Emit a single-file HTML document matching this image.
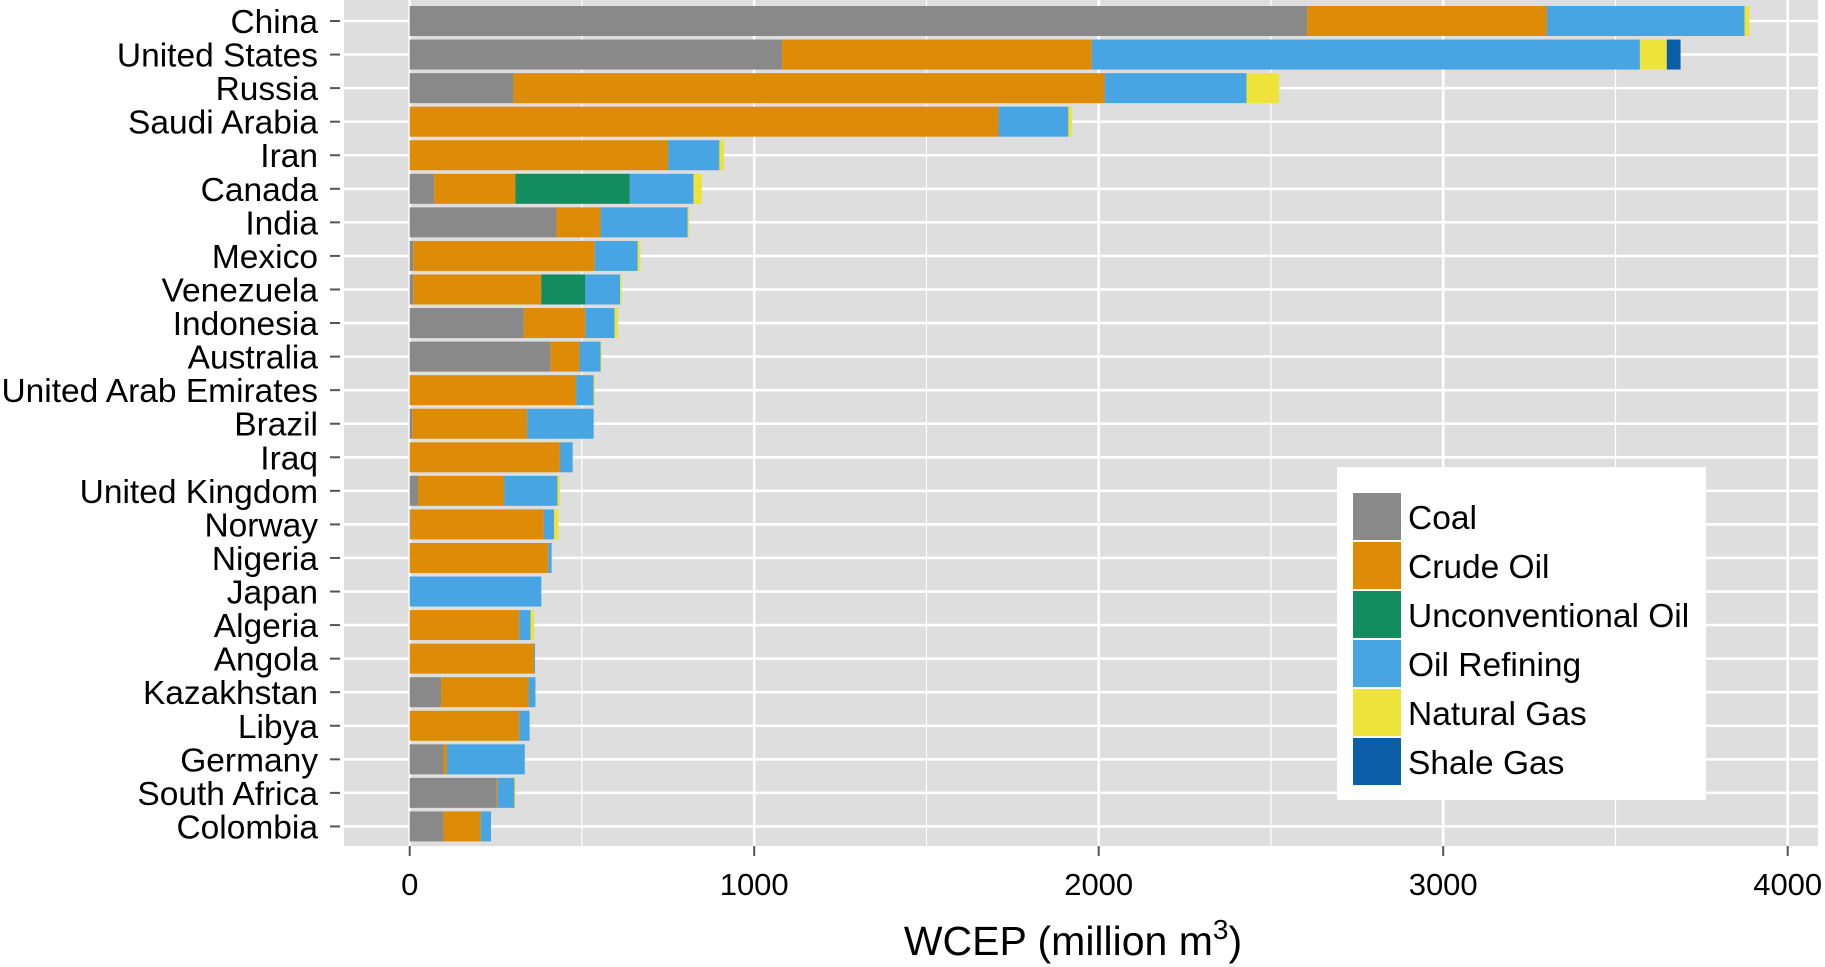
<!DOCTYPE html>
<html><head><meta charset="utf-8"><style>
body{margin:0;background:#fff;}
svg{display:block;font-family:"Liberation Sans",Arial,sans-serif;}
</style></head><body>
<svg id="chart" width="1825" height="967" viewBox="0 0 1825 967" xmlns="http://www.w3.org/2000/svg">
<rect x="344" y="0" width="1474" height="846" fill="#dedede"/>
<g id="grid"></g>
<g id="bars"></g>
<g id="ylabels"></g>
<g id="xlabels"></g>
<text x="1073" y="955" font-size="41" text-anchor="middle">WCEP (million m<tspan dy="-16" font-size="28">3</tspan><tspan dy="16">)</tspan></text>
<g id="legend"></g>
</svg>
<script>
const countries=["China","United States","Russia","Saudi Arabia","Iran","Canada","India","Mexico","Venezuela","Indonesia","Australia","United Arab Emirates","Brazil","Iraq","United Kingdom","Norway","Nigeria","Japan","Algeria","Angola","Kazakhstan","Libya","Germany","South Africa","Colombia"];
const seriesNames=["Coal","Crude Oil","Unconventional Oil","Oil Refining","Natural Gas","Shale Gas"];
const coal=[2605,1081,301,0,0,71,426,10,10,331,409,0,7,0,24,3,0,0,0,0,91,0,98,253,98];
const crudeOil=[696,899,1716,1709,750,236,128,527,372,179,84,483,334,436,250,386,402,0,318,361,254,318,10,3,108];
const unconventionalOil=[0,0,0,0,0,332,0,0,128,0,0,0,0,0,0,0,0,0,0,0,0,0,0,0,0];
const oilRefining=[574,1591,412,203,149,185,253,125,101,85,61,51,193,37,155,30,10,382,33,3,20,30,226,48,30];
const naturalGas=[14,78,95,10,13,24,4,7,4,10,3,3,0,0,7,13,0,0,10,0,0,0,0,3,0];
const shaleGas=[0,40,0,0,0,0,0,0,0,0,0,0,0,0,0,0,0,0,0,0,0,0,0,0,0];
const xTicks=[0,1000,2000,3000,4000];
const colors=["#898989","#de8c07","#138c60","#48a5e3","#ede33a","#0b5ea6"];
const NS="http://www.w3.org/2000/svg";
const X=v=>409.7+v*0.3445;
const Y=i=>21+i*33.56;
const BH=30;
function mk(tag,attrs,parent){const e=document.createElementNS(NS,tag);for(const k in attrs)e.setAttribute(k,attrs[k]);parent.appendChild(e);return e;}
const grid=document.getElementById('grid');
for(let v=-500;v<=4250;v+=500){const x=X(v);if(x<344||x>1818)continue;const major=v%1000===0;
 const l=mk('line',{x1:x,x2:x,y1:0,y2:846,stroke:'#fff','stroke-width':major?2.6:1.2},grid);
 
 }
countries.forEach((c,i)=>{const l=mk('line',{x1:344,x2:1818,y1:Y(i),y2:Y(i),stroke:'#fff','stroke-width':2.6},grid);
 
 });
const series=[coal,crudeOil,unconventionalOil,oilRefining,naturalGas,shaleGas];
const bars=document.getElementById('bars');
countries.forEach((c,i)=>{let acc=0;series.forEach((s,k)=>{const v=s[i];if(v>0){
 const r=mk('rect',{x:X(acc),y:Y(i)-BH/2,width:X(acc+v)-X(acc),height:BH,fill:colors[k]},bars);
 
 }acc+=v;});});
const yl=document.getElementById('ylabels');
countries.forEach((c,i)=>{const t=mk('text',{x:318,y:Y(i)+12,'font-size':33.5,'text-anchor':'end',fill:'#000'},yl);t.textContent=c;
 
 
 const tk=mk('line',{x1:330,x2:340,y1:Y(i),y2:Y(i),stroke:'#555','stroke-width':2},yl);
 
 });
const xl=document.getElementById('xlabels');
xTicks.forEach(v=>{const tk=mk('line',{x1:X(v),x2:X(v),y1:846,y2:856,stroke:'#555','stroke-width':2},xl);
 
 
 const t=mk('text',{x:X(v),y:895,'font-size':31,'text-anchor':'middle',fill:'#000'},xl);t.textContent=v;
 
 });
const lg=document.getElementById('legend');
const lb=mk('rect',{x:1337,y:467,width:369,height:333,fill:'#fff'},lg);


seriesNames.forEach((n,k)=>{const y=493+k*49;
 const r=mk('rect',{x:1353,y:y,width:48,height:47,fill:colors[k]},lg);
 
 
 const t=mk('text',{x:1408,y:y+36,'font-size':33.5,fill:'#000'},lg);t.textContent=n;
 
 });
</script>
</body></html>
